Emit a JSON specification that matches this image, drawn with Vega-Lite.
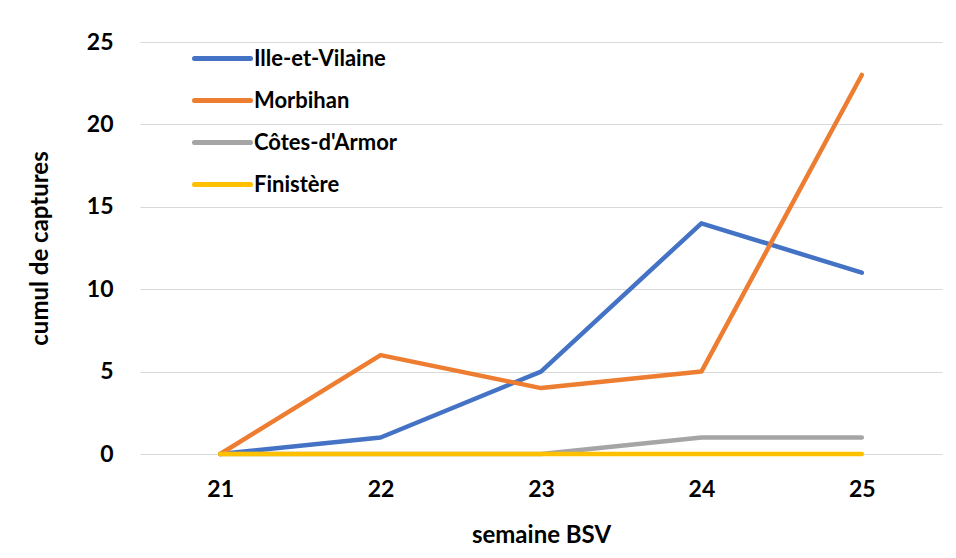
{
  "$schema": "https://vega.github.io/schema/vega-lite/v6.json",
  "autosize": "none",
  "width": 802,
  "height": 412,
  "padding": {"left": 140, "top": 42, "right": 14, "bottom": 104},
  "background": "white",
  "config": {
    "view": {"stroke": null},
    "font": "Lato",
    "axis": {"labelFont": "Lato", "titleFont": "Lato", "labelFontWeight": "bold", "titleFontWeight": "bold", "labelColor": "#000000", "titleColor": "#000000"}
  },
  "data": {
    "values": [
      {"semaine": "21", "departement": "Ille-et-Vilaine", "captures": 0},
      {"semaine": "22", "departement": "Ille-et-Vilaine", "captures": 1},
      {"semaine": "23", "departement": "Ille-et-Vilaine", "captures": 5},
      {"semaine": "24", "departement": "Ille-et-Vilaine", "captures": 14},
      {"semaine": "25", "departement": "Ille-et-Vilaine", "captures": 11},
      {"semaine": "21", "departement": "Morbihan", "captures": 0},
      {"semaine": "22", "departement": "Morbihan", "captures": 6},
      {"semaine": "23", "departement": "Morbihan", "captures": 4},
      {"semaine": "24", "departement": "Morbihan", "captures": 5},
      {"semaine": "25", "departement": "Morbihan", "captures": 23},
      {"semaine": "21", "departement": "Côtes-d'Armor", "captures": 0},
      {"semaine": "22", "departement": "Côtes-d'Armor", "captures": 0},
      {"semaine": "23", "departement": "Côtes-d'Armor", "captures": 0},
      {"semaine": "24", "departement": "Côtes-d'Armor", "captures": 1},
      {"semaine": "25", "departement": "Côtes-d'Armor", "captures": 1},
      {"semaine": "21", "departement": "Finistère", "captures": 0},
      {"semaine": "22", "departement": "Finistère", "captures": 0},
      {"semaine": "23", "departement": "Finistère", "captures": 0},
      {"semaine": "24", "departement": "Finistère", "captures": 0},
      {"semaine": "25", "departement": "Finistère", "captures": 0}
    ]
  },
  "mark": {"type": "line", "strokeWidth": 4.5, "strokeCap": "round", "strokeJoin": "round"},
  "encoding": {
    "x": {
      "field": "semaine",
      "type": "ordinal",
      "scale": {"type": "point", "padding": 0.5},
      "axis": {
        "title": "semaine BSV",
        "labelAngle": 0,
        "labelFontSize": 23,
        "labelPadding": 24,
        "ticks": false,
        "domain": false,
        "grid": false,
        "titleFontSize": 24,
        "titleY": 81,
        "titleBaseline": "middle"
      }
    },
    "y": {
      "field": "captures",
      "type": "quantitative",
      "scale": {"domain": [0, 25], "nice": false},
      "axis": {
        "title": "cumul de captures",
        "values": [0, 5, 10, 15, 20, 25],
        "labelFontSize": 23,
        "labelPadding": 27,
        "ticks": false,
        "domain": false,
        "grid": true,
        "gridColor": "#D9D9D9",
        "gridWidth": 1,
        "titleFontSize": 24,
        "titleX": -100,
        "titleY": 206,
        "titleAngle": -90,
        "titleAlign": "center",
        "titleBaseline": "middle"
      }
    },
    "color": {
      "field": "departement",
      "type": "nominal",
      "sort": ["Ille-et-Vilaine", "Morbihan", "Côtes-d'Armor", "Finistère"],
      "scale": {
        "domain": ["Ille-et-Vilaine", "Morbihan", "Côtes-d'Armor", "Finistère"],
        "range": ["#4472C4", "#ED7D31", "#A5A5A5", "#FFC000"]
      },
      "legend": {
        "title": null,
        "orient": "none",
        "legendX": 60,
        "legendY": -6,
        "symbolType": "M-1.4,0H1.4",
        "symbolSize": 1600,
        "symbolStrokeWidth": 5,
        "labelFont": "Lato",
        "labelFontWeight": "bold",
        "labelFontSize": 22,
        "labelColor": "#000000",
        "labelOffset": 9,
        "rowPadding": 8,
        "labelLimit": 300,
        "encode": {"symbols": {"update": {"strokeCap": {"value": "round"}}}}
      }
    }
  }
}
